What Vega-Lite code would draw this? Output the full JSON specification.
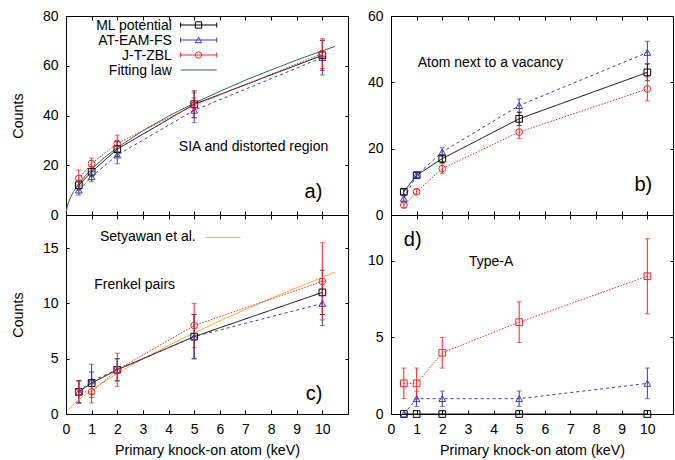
{
  "$schema": "https://vega.github.io/schema/vega-lite/v6.json",
  "padding": {"left": 10, "top": 8, "right": 0, "bottom": 0},
  "background": "white",
  "config": {
    "font": "Liberation Sans",
    "view": {"stroke": "black", "strokeWidth": 1},
    "axis": {"domain": false, "grid": false, "ticks": true, "tickColor": "black", "tickWidth": 1, "labelFont": "Liberation Sans", "labelFontSize": 14, "labelColor": "black", "labelFlush": false, "labelOverlap": false, "titleFont": "Liberation Sans", "titleFontSize": 14.3, "titleFontWeight": "normal", "titleColor": "black"},
    "axisX": {"tickSize": -4, "labelPadding": 12, "titlePadding": 7},
    "axisY": {"tickSize": -3, "labelPadding": 11, "titlePadding": 17},
    "text": {"font": "Liberation Sans", "color": "black"}
  },
  "columns": 2,
  "spacing": {"row": 0, "column": 43},
  "bounds": "flush",
  "resolve": {
    "scale": {"color": "independent", "shape": "independent", "strokeDash": "independent"},
    "legend": {"color": "independent", "shape": "independent", "strokeDash": "independent"}
  },
  "datasets": {
    "sia": [
      {"x": 0.5, "pot": "ML potential", "v": 12, "e": 2},
      {"x": 1, "pot": "ML potential", "v": 17.4, "e": 2},
      {"x": 2, "pot": "ML potential", "v": 26.5, "e": 3},
      {"x": 5, "pot": "ML potential", "v": 44.5, "e": 5.4},
      {"x": 10, "pot": "ML potential", "v": 64.2, "e": 6},
      {"x": 0.5, "pot": "AT-EAM-FS", "v": 10, "e": 2},
      {"x": 1, "pot": "AT-EAM-FS", "v": 15.4, "e": 2},
      {"x": 2, "pot": "AT-EAM-FS", "v": 24.1, "e": 3.5},
      {"x": 5, "pot": "AT-EAM-FS", "v": 42.1, "e": 5},
      {"x": 10, "pot": "AT-EAM-FS", "v": 63.3, "e": 7},
      {"x": 0.5, "pot": "J-T-ZBL", "v": 14.7, "e": 3.4},
      {"x": 1, "pot": "J-T-ZBL", "v": 20.7, "e": 2.2},
      {"x": 2, "pot": "J-T-ZBL", "v": 28.8, "e": 3.3},
      {"x": 5, "pot": "J-T-ZBL", "v": 44.1, "e": 5},
      {"x": 10, "pot": "J-T-ZBL", "v": 64.9, "e": 6}
    ],
    "vac": [
      {"x": 0.5, "pot": "ML potential", "v": 7, "e": 0.8},
      {"x": 1, "pot": "ML potential", "v": 12, "e": 0.8},
      {"x": 2, "pot": "ML potential", "v": 17, "e": 1.2},
      {"x": 5, "pot": "ML potential", "v": 29, "e": 2},
      {"x": 10, "pot": "ML potential", "v": 43, "e": 2.5},
      {"x": 0.5, "pot": "AT-EAM-FS", "v": 5, "e": 0.8},
      {"x": 1, "pot": "AT-EAM-FS", "v": 12, "e": 0.8},
      {"x": 2, "pot": "AT-EAM-FS", "v": 19, "e": 1.3},
      {"x": 5, "pot": "AT-EAM-FS", "v": 33, "e": 2},
      {"x": 10, "pot": "AT-EAM-FS", "v": 49, "e": 3.4},
      {"x": 0.5, "pot": "J-T-ZBL", "v": 3, "e": 0.8},
      {"x": 1, "pot": "J-T-ZBL", "v": 7, "e": 0.8},
      {"x": 2, "pot": "J-T-ZBL", "v": 14, "e": 1.5},
      {"x": 5, "pot": "J-T-ZBL", "v": 25, "e": 2},
      {"x": 10, "pot": "J-T-ZBL", "v": 38, "e": 3.6}
    ],
    "fp": [
      {"x": 0.5, "pot": "ML potential", "v": 2, "e": 1},
      {"x": 1, "pot": "ML potential", "v": 2.8, "e": 1},
      {"x": 2, "pot": "ML potential", "v": 4, "e": 1},
      {"x": 5, "pot": "ML potential", "v": 7, "e": 2},
      {"x": 10, "pot": "ML potential", "v": 11, "e": 2},
      {"x": 0.5, "pot": "AT-EAM-FS", "v": 2, "e": 1},
      {"x": 1, "pot": "AT-EAM-FS", "v": 3, "e": 1.5},
      {"x": 2, "pot": "AT-EAM-FS", "v": 4, "e": 1},
      {"x": 5, "pot": "AT-EAM-FS", "v": 7, "e": 2},
      {"x": 10, "pot": "AT-EAM-FS", "v": 10, "e": 2},
      {"x": 0.5, "pot": "J-T-ZBL", "v": 2, "e": 1},
      {"x": 1, "pot": "J-T-ZBL", "v": 2, "e": 1},
      {"x": 2, "pot": "J-T-ZBL", "v": 4, "e": 1.5},
      {"x": 5, "pot": "J-T-ZBL", "v": 8, "e": 2},
      {"x": 10, "pot": "J-T-ZBL", "v": 12, "e": 3.5}
    ],
    "typeA": [
      {"x": 0.5, "pot": "ML potential", "v": 0, "e": 0},
      {"x": 1, "pot": "ML potential", "v": 0, "e": 0},
      {"x": 2, "pot": "ML potential", "v": 0, "e": 0},
      {"x": 5, "pot": "ML potential", "v": 0, "e": 0},
      {"x": 10, "pot": "ML potential", "v": 0, "e": 0},
      {"x": 0.5, "pot": "AT-EAM-FS", "v": 0, "e": 0},
      {"x": 1, "pot": "AT-EAM-FS", "v": 1, "e": 0.5},
      {"x": 2, "pot": "AT-EAM-FS", "v": 1, "e": 0.5},
      {"x": 5, "pot": "AT-EAM-FS", "v": 1, "e": 0.5},
      {"x": 10, "pot": "AT-EAM-FS", "v": 2, "e": 1},
      {"x": 0.5, "pot": "J-T-ZBL", "v": 2, "e": 1},
      {"x": 1, "pot": "J-T-ZBL", "v": 2, "e": 1},
      {"x": 2, "pot": "J-T-ZBL", "v": 4, "e": 1},
      {"x": 5, "pot": "J-T-ZBL", "v": 6, "e": 1.33},
      {"x": 10, "pot": "J-T-ZBL", "v": 9, "e": 2.45}
    ],
    "fitlaw": [
      {"x": 0.01, "y": 1.45, "pot": "Fitting law"},
      {"x": 0.05, "y": 3.53, "pot": "Fitting law"},
      {"x": 0.1, "y": 5.17, "pot": "Fitting law"},
      {"x": 0.2, "y": 7.59, "pot": "Fitting law"},
      {"x": 0.3, "y": 9.49, "pot": "Fitting law"},
      {"x": 0.5, "y": 12.6, "pot": "Fitting law"},
      {"x": 0.75, "y": 15.75, "pot": "Fitting law"},
      {"x": 1, "y": 18.47, "pot": "Fitting law"},
      {"x": 1.5, "y": 23.1, "pot": "Fitting law"},
      {"x": 2, "y": 27.1, "pot": "Fitting law"},
      {"x": 3, "y": 33.9, "pot": "Fitting law"},
      {"x": 4, "y": 39.75, "pot": "Fitting law"},
      {"x": 5, "y": 44.98, "pot": "Fitting law"},
      {"x": 6, "y": 49.7, "pot": "Fitting law"},
      {"x": 7, "y": 54.2, "pot": "Fitting law"},
      {"x": 8, "y": 58.3, "pot": "Fitting law"},
      {"x": 9, "y": 62.3, "pot": "Fitting law"},
      {"x": 10, "y": 66.0, "pot": "Fitting law"},
      {"x": 10.5, "y": 67.8, "pot": "Fitting law"}
    ],
    "setyawan": [
      {"x": 0.1, "y": 0.38, "pot": "Setyawan et al."},
      {"x": 0.25, "y": 0.77, "pot": "Setyawan et al."},
      {"x": 0.5, "y": 1.29, "pot": "Setyawan et al."},
      {"x": 1, "y": 2.18, "pot": "Setyawan et al."},
      {"x": 2, "y": 3.68, "pot": "Setyawan et al."},
      {"x": 3, "y": 4.99, "pot": "Setyawan et al."},
      {"x": 4, "y": 6.2, "pot": "Setyawan et al."},
      {"x": 5, "y": 7.33, "pot": "Setyawan et al."},
      {"x": 6, "y": 8.42, "pot": "Setyawan et al."},
      {"x": 7, "y": 9.45, "pot": "Setyawan et al."},
      {"x": 8, "y": 10.46, "pot": "Setyawan et al."},
      {"x": 9, "y": 11.43, "pot": "Setyawan et al."},
      {"x": 10, "y": 12.36, "pot": "Setyawan et al."},
      {"x": 10.5, "y": 12.84, "pot": "Setyawan et al."}
    ]
  },
  "concat": [
    {
      "width": 282, "height": 199,
      "resolve": {"axis": {"x": "independent", "y": "independent"}},
      "layer": [
        {
          "data": {"name": "sia"},
          "transform": [{"filter": "datum.e > 0"}],
          "mark": {"type": "errorbar", "ticks": {"size": 5}, "thickness": 1},
          "encoding": {
            "x": {"field": "x", "type": "quantitative", "scale": {"domain": [0, 10.5]}, "axis": null},
            "y": {"field": "v", "type": "quantitative", "scale": {"domain": [0, 80]}, "axis": null},
            "yError": {"field": "e"},
            "color": {"field": "pot", "type": "nominal", "scale": {"domain": ["ML potential", "AT-EAM-FS", "J-T-ZBL", "Fitting law"], "range": ["#000000", "#3c3cae", "#f02828", "#2e6a52"]}, "legend": null}
          }
        },
        {
          "data": {"name": "fitlaw"},
          "mark": {"type": "line", "strokeWidth": 1},
          "encoding": {
            "x": {"field": "x", "type": "quantitative", "scale": {"domain": [0, 10.5]}, "axis": null},
            "y": {"field": "y", "type": "quantitative", "scale": {"domain": [0, 80]}, "axis": null},
            "color": {"field": "pot", "type": "nominal", "legend": null}
          }
        },
        {
          "data": {"name": "sia"},
          "mark": {"type": "line", "strokeWidth": 1},
          "encoding": {
            "x": {"field": "x", "type": "quantitative", "scale": {"domain": [0, 10.5]}, "axis": {"orient": "bottom", "labels": false, "title": null, "values": [0, 1, 2, 3, 4, 5, 6, 7, 8, 9, 10]}},
            "y": {"field": "v", "type": "quantitative", "scale": {"domain": [0, 80]}, "axis": {"orient": "left", "title": "Counts", "values": [0, 20, 40, 60, 80]}},
            "color": {"field": "pot", "type": "nominal", "legend": null},
            "strokeDash": {"field": "pot", "type": "nominal", "scale": {"domain": ["ML potential", "AT-EAM-FS", "J-T-ZBL"], "range": [[1, 0], [3, 3], [1.5, 1.5]]}, "legend": null}
          }
        },
        {
          "data": {"name": "sia"},
          "mark": {"type": "point", "filled": false, "size": 45, "opacity": 1, "strokeWidth": 1},
          "encoding": {
            "x": {"field": "x", "type": "quantitative", "scale": {"domain": [0, 10.5]}, "axis": {"orient": "top", "labels": false, "title": null, "values": [0, 1, 2, 3, 4, 5, 6, 7, 8, 9, 10]}},
            "y": {"field": "v", "type": "quantitative", "scale": {"domain": [0, 80]}, "axis": {"orient": "right", "labels": false, "title": null, "values": [0, 20, 40, 60, 80]}},
            "shape": {"field": "pot", "type": "nominal", "scale": {"domain": ["ML potential", "AT-EAM-FS", "J-T-ZBL", "Fitting law"], "range": ["square", "triangle-up", "circle", "stroke"]}, "legend": null},
            "color": {"field": "pot", "type": "nominal", "legend": null}
          }
        },
        {
          "data": {"values": [{}]},
          "mark": {"type": "text", "align": "right", "baseline": "alphabetic", "fontSize": 14, "lineHeight": 15},
          "encoding": {
            "x": {"datum": 4.13, "type": "quantitative", "axis": null},
            "y": {"datum": 74.4, "type": "quantitative", "axis": null},
            "text": {"value": ["ML potential", "AT-EAM-FS", "J-T-ZBL", "Fitting law"]}
          }
        },
        {
          "data": {"values": [{}]},
          "mark": {"type": "rule", "strokeWidth": 1, "color": "#000000"},
          "encoding": {"x": {"datum": 4.47, "type": "quantitative", "axis": null}, "x2": {"datum": 5.88}, "y": {"datum": 76.38, "type": "quantitative", "axis": null}}
        },
        {
          "data": {"values": [{}]},
          "mark": {"type": "rule", "strokeWidth": 1, "color": "#3c3cae"},
          "encoding": {"x": {"datum": 4.47, "type": "quantitative", "axis": null}, "x2": {"datum": 5.88}, "y": {"datum": 70.35, "type": "quantitative", "axis": null}}
        },
        {
          "data": {"values": [{}]},
          "mark": {"type": "rule", "strokeWidth": 1, "color": "#f02828"},
          "encoding": {"x": {"datum": 4.47, "type": "quantitative", "axis": null}, "x2": {"datum": 5.88}, "y": {"datum": 64.32, "type": "quantitative", "axis": null}}
        },
        {
          "data": {"values": [{}]},
          "mark": {"type": "rule", "strokeWidth": 1, "color": "#2e6a52"},
          "encoding": {"x": {"datum": 4.47, "type": "quantitative", "axis": null}, "x2": {"datum": 5.88}, "y": {"datum": 58.29, "type": "quantitative", "axis": null}}
        },
        {
          "data": {"values": [{}]},
          "mark": {"type": "tick", "orient": "vertical", "size": 5, "thickness": 1, "opacity": 1, "color": "#000000"},
          "encoding": {"x": {"datum": 4.47, "type": "quantitative", "axis": null}, "y": {"datum": 76.38, "type": "quantitative", "axis": null}}
        },
        {
          "data": {"values": [{}]},
          "mark": {"type": "tick", "orient": "vertical", "size": 5, "thickness": 1, "opacity": 1, "color": "#000000"},
          "encoding": {"x": {"datum": 5.88, "type": "quantitative", "axis": null}, "y": {"datum": 76.38, "type": "quantitative", "axis": null}}
        },
        {
          "data": {"values": [{}]},
          "mark": {"type": "tick", "orient": "vertical", "size": 5, "thickness": 1, "opacity": 1, "color": "#3c3cae"},
          "encoding": {"x": {"datum": 4.47, "type": "quantitative", "axis": null}, "y": {"datum": 70.35, "type": "quantitative", "axis": null}}
        },
        {
          "data": {"values": [{}]},
          "mark": {"type": "tick", "orient": "vertical", "size": 5, "thickness": 1, "opacity": 1, "color": "#3c3cae"},
          "encoding": {"x": {"datum": 5.88, "type": "quantitative", "axis": null}, "y": {"datum": 70.35, "type": "quantitative", "axis": null}}
        },
        {
          "data": {"values": [{}]},
          "mark": {"type": "tick", "orient": "vertical", "size": 5, "thickness": 1, "opacity": 1, "color": "#f02828"},
          "encoding": {"x": {"datum": 4.47, "type": "quantitative", "axis": null}, "y": {"datum": 64.32, "type": "quantitative", "axis": null}}
        },
        {
          "data": {"values": [{}]},
          "mark": {"type": "tick", "orient": "vertical", "size": 5, "thickness": 1, "opacity": 1, "color": "#f02828"},
          "encoding": {"x": {"datum": 5.88, "type": "quantitative", "axis": null}, "y": {"datum": 64.32, "type": "quantitative", "axis": null}}
        },
        {
          "data": {"values": [{}]},
          "mark": {"type": "point", "shape": "square", "filled": false, "size": 40, "opacity": 1, "strokeWidth": 1, "color": "#000000"},
          "encoding": {"x": {"datum": 5.17, "type": "quantitative", "axis": null}, "y": {"datum": 76.38, "type": "quantitative", "axis": null}}
        },
        {
          "data": {"values": [{}]},
          "mark": {"type": "point", "shape": "triangle-up", "filled": false, "size": 40, "opacity": 1, "strokeWidth": 1, "color": "#3c3cae"},
          "encoding": {"x": {"datum": 5.17, "type": "quantitative", "axis": null}, "y": {"datum": 70.35, "type": "quantitative", "axis": null}}
        },
        {
          "data": {"values": [{}]},
          "mark": {"type": "point", "shape": "circle", "filled": false, "size": 40, "opacity": 1, "strokeWidth": 1, "color": "#f02828"},
          "encoding": {"x": {"datum": 5.17, "type": "quantitative", "axis": null}, "y": {"datum": 64.32, "type": "quantitative", "axis": null}}
        },
        {
          "data": {"values": [{}]},
          "mark": {"type": "text", "align": "left", "baseline": "middle", "fontSize": 14},
          "encoding": {
            "x": {"datum": 4.4, "type": "quantitative", "axis": null},
            "y": {"datum": 27.3, "type": "quantitative", "axis": null},
            "text": {"value": "SIA and distorted region"}
          }
        },
        {
          "data": {"values": [{}]},
          "mark": {"type": "text", "align": "right", "baseline": "middle", "fontSize": 20},
          "encoding": {
            "x": {"datum": 10.0, "type": "quantitative", "axis": null},
            "y": {"datum": 9.4, "type": "quantitative", "axis": null},
            "text": {"value": "a)"}
          }
        }
      ]
    },
    {
      "width": 282, "height": 199,
      "resolve": {"axis": {"x": "independent", "y": "independent"}},
      "layer": [
        {
          "data": {"name": "vac"},
          "transform": [{"filter": "datum.e > 0"}],
          "mark": {"type": "errorbar", "ticks": {"size": 5}, "thickness": 1},
          "encoding": {
            "x": {"field": "x", "type": "quantitative", "scale": {"domain": [0, 10.5]}, "axis": null},
            "y": {"field": "v", "type": "quantitative", "scale": {"domain": [0, 60]}, "axis": null},
            "yError": {"field": "e"},
            "color": {"field": "pot", "type": "nominal", "scale": {"domain": ["ML potential", "AT-EAM-FS", "J-T-ZBL"], "range": ["#000000", "#3c3cae", "#f02828"]}, "legend": null}
          }
        },
        {
          "data": {"name": "vac"},
          "mark": {"type": "line", "strokeWidth": 1},
          "encoding": {
            "x": {"field": "x", "type": "quantitative", "scale": {"domain": [0, 10.5]}, "axis": {"orient": "bottom", "labels": false, "title": null, "values": [0, 1, 2, 3, 4, 5, 6, 7, 8, 9, 10]}},
            "y": {"field": "v", "type": "quantitative", "scale": {"domain": [0, 60]}, "axis": {"orient": "left", "title": null, "values": [0, 20, 40, 60]}},
            "color": {"field": "pot", "type": "nominal", "legend": null},
            "strokeDash": {"field": "pot", "type": "nominal", "scale": {"domain": ["ML potential", "AT-EAM-FS", "J-T-ZBL"], "range": [[1, 0], [3, 3], [1.5, 1.5]]}, "legend": null}
          }
        },
        {
          "data": {"name": "vac"},
          "mark": {"type": "point", "filled": false, "size": 45, "opacity": 1, "strokeWidth": 1},
          "encoding": {
            "x": {"field": "x", "type": "quantitative", "scale": {"domain": [0, 10.5]}, "axis": {"orient": "top", "labels": false, "title": null, "values": [0, 1, 2, 3, 4, 5, 6, 7, 8, 9, 10]}},
            "y": {"field": "v", "type": "quantitative", "scale": {"domain": [0, 60]}, "axis": {"orient": "right", "labels": false, "title": null, "values": [0, 20, 40, 60]}},
            "shape": {"field": "pot", "type": "nominal", "scale": {"domain": ["ML potential", "AT-EAM-FS", "J-T-ZBL"], "range": ["square", "triangle-up", "circle"]}, "legend": null},
            "color": {"field": "pot", "type": "nominal", "legend": null}
          }
        },
        {
          "data": {"values": [{}]},
          "mark": {"type": "text", "align": "left", "baseline": "middle", "fontSize": 14},
          "encoding": {
            "x": {"datum": 1.04, "type": "quantitative", "axis": null},
            "y": {"datum": 45.8, "type": "quantitative", "axis": null},
            "text": {"value": "Atom next to a vacancy"}
          }
        },
        {
          "data": {"values": [{}]},
          "mark": {"type": "text", "align": "right", "baseline": "middle", "fontSize": 20},
          "encoding": {
            "x": {"datum": 10.19, "type": "quantitative", "axis": null},
            "y": {"datum": 9.0, "type": "quantitative", "axis": null},
            "text": {"value": "b)"}
          }
        }
      ]
    },
    {
      "width": 282, "height": 199,
      "resolve": {"axis": {"x": "independent", "y": "independent"}},
      "layer": [
        {
          "data": {"name": "fp"},
          "transform": [{"filter": "datum.e > 0"}],
          "mark": {"type": "errorbar", "ticks": {"size": 5}, "thickness": 1},
          "encoding": {
            "x": {"field": "x", "type": "quantitative", "scale": {"domain": [0, 10.5]}, "axis": null},
            "y": {"field": "v", "type": "quantitative", "scale": {"domain": [0, 17]}, "axis": null},
            "yError": {"field": "e"},
            "color": {"field": "pot", "type": "nominal", "scale": {"domain": ["ML potential", "AT-EAM-FS", "J-T-ZBL", "Setyawan et al."], "range": ["#000000", "#3c3cae", "#f02828", "#f7b13a"]}, "legend": null}
          }
        },
        {
          "data": {"name": "setyawan"},
          "mark": {"type": "line", "strokeWidth": 1},
          "encoding": {
            "x": {"field": "x", "type": "quantitative", "scale": {"domain": [0, 10.5]}, "axis": null},
            "y": {"field": "y", "type": "quantitative", "scale": {"domain": [0, 17]}, "axis": null},
            "color": {"field": "pot", "type": "nominal", "legend": null}
          }
        },
        {
          "data": {"name": "fp"},
          "mark": {"type": "line", "strokeWidth": 1},
          "encoding": {
            "x": {"field": "x", "type": "quantitative", "scale": {"domain": [0, 10.5]}, "axis": {"orient": "bottom", "title": "Primary knock-on atom (keV)", "values": [0, 1, 2, 3, 4, 5, 6, 7, 8, 9, 10]}},
            "y": {"field": "v", "type": "quantitative", "scale": {"domain": [0, 17]}, "axis": {"orient": "left", "title": "Counts", "values": [0, 5, 10, 15]}},
            "color": {"field": "pot", "type": "nominal", "legend": null},
            "strokeDash": {"field": "pot", "type": "nominal", "scale": {"domain": ["ML potential", "AT-EAM-FS", "J-T-ZBL"], "range": [[1, 0], [3, 3], [1.5, 1.5]]}, "legend": null}
          }
        },
        {
          "data": {"name": "fp"},
          "mark": {"type": "point", "filled": false, "size": 45, "opacity": 1, "strokeWidth": 1},
          "encoding": {
            "x": {"field": "x", "type": "quantitative", "scale": {"domain": [0, 10.5]}, "axis": {"orient": "top", "labels": false, "title": null, "values": [0, 1, 2, 3, 4, 5, 6, 7, 8, 9, 10]}},
            "y": {"field": "v", "type": "quantitative", "scale": {"domain": [0, 17]}, "axis": {"orient": "right", "labels": false, "title": null, "values": [0, 5, 10, 15]}},
            "shape": {"field": "pot", "type": "nominal", "scale": {"domain": ["ML potential", "AT-EAM-FS", "J-T-ZBL"], "range": ["square", "triangle-up", "circle"]}, "legend": null},
            "color": {"field": "pot", "type": "nominal", "legend": null}
          }
        },
        {
          "data": {"values": [{}]},
          "mark": {"type": "text", "align": "right", "baseline": "middle", "fontSize": 14},
          "encoding": {
            "x": {"datum": 5.06, "type": "quantitative", "axis": null},
            "y": {"datum": 15.97, "type": "quantitative", "axis": null},
            "text": {"value": "Setyawan et al."}
          }
        },
        {
          "data": {"values": [{}]},
          "mark": {"type": "rule", "strokeWidth": 1, "color": "#f7b13a"},
          "encoding": {
            "x": {"datum": 5.44, "type": "quantitative", "axis": null},
            "x2": {"datum": 6.81},
            "y": {"datum": 15.97, "type": "quantitative", "axis": null}
          }
        },
        {
          "data": {"values": [{}]},
          "mark": {"type": "text", "align": "left", "baseline": "middle", "fontSize": 14},
          "encoding": {
            "x": {"datum": 1.1, "type": "quantitative", "axis": null},
            "y": {"datum": 11.7, "type": "quantitative", "axis": null},
            "text": {"value": "Frenkel pairs"}
          }
        },
        {
          "data": {"values": [{}]},
          "mark": {"type": "text", "align": "right", "baseline": "middle", "fontSize": 20},
          "encoding": {
            "x": {"datum": 10.0, "type": "quantitative", "axis": null},
            "y": {"datum": 1.84, "type": "quantitative", "axis": null},
            "text": {"value": "c)"}
          }
        }
      ]
    },
    {
      "width": 282, "height": 199,
      "resolve": {"axis": {"x": "independent", "y": "independent"}},
      "layer": [
        {
          "data": {"name": "typeA"},
          "transform": [{"filter": "datum.e > 0"}],
          "mark": {"type": "errorbar", "ticks": {"size": 5}, "thickness": 1},
          "encoding": {
            "x": {"field": "x", "type": "quantitative", "scale": {"domain": [0, 10.5]}, "axis": null},
            "y": {"field": "v", "type": "quantitative", "scale": {"domain": [0, 13]}, "axis": null},
            "yError": {"field": "e"},
            "color": {"field": "pot", "type": "nominal", "scale": {"domain": ["ML potential", "AT-EAM-FS", "J-T-ZBL"], "range": ["#000000", "#3c3cae", "#f02828"]}, "legend": null}
          }
        },
        {
          "data": {"name": "typeA"},
          "mark": {"type": "line", "strokeWidth": 1},
          "encoding": {
            "x": {"field": "x", "type": "quantitative", "scale": {"domain": [0, 10.5]}, "axis": {"orient": "bottom", "title": "Primary knock-on atom (keV)", "values": [0, 1, 2, 3, 4, 5, 6, 7, 8, 9, 10]}},
            "y": {"field": "v", "type": "quantitative", "scale": {"domain": [0, 13]}, "axis": {"orient": "left", "title": null, "values": [0, 5, 10]}},
            "color": {"field": "pot", "type": "nominal", "legend": null},
            "strokeDash": {"field": "pot", "type": "nominal", "scale": {"domain": ["ML potential", "AT-EAM-FS", "J-T-ZBL"], "range": [[1, 0], [3, 3], [1.5, 1.5]]}, "legend": null}
          }
        },
        {
          "data": {"name": "typeA"},
          "mark": {"type": "point", "filled": false, "size": 45, "opacity": 1, "strokeWidth": 1},
          "encoding": {
            "x": {"field": "x", "type": "quantitative", "scale": {"domain": [0, 10.5]}, "axis": {"orient": "top", "labels": false, "title": null, "values": [0, 1, 2, 3, 4, 5, 6, 7, 8, 9, 10]}},
            "y": {"field": "v", "type": "quantitative", "scale": {"domain": [0, 13]}, "axis": {"orient": "right", "labels": false, "title": null, "values": [0, 5, 10]}},
            "shape": {"field": "pot", "type": "nominal", "scale": {"domain": ["ML potential", "AT-EAM-FS", "J-T-ZBL"], "range": ["square", "triangle-up", "square"]}, "legend": null},
            "color": {"field": "pot", "type": "nominal", "legend": null}
          }
        },
        {
          "data": {"values": [{}]},
          "mark": {"type": "text", "align": "left", "baseline": "middle", "fontSize": 14},
          "encoding": {
            "x": {"datum": 3.04, "type": "quantitative", "axis": null},
            "y": {"datum": 9.95, "type": "quantitative", "axis": null},
            "text": {"value": "Type-A"}
          }
        },
        {
          "data": {"values": [{}]},
          "mark": {"type": "text", "align": "left", "baseline": "middle", "fontSize": 20},
          "encoding": {
            "x": {"datum": 0.5, "type": "quantitative", "axis": null},
            "y": {"datum": 11.37, "type": "quantitative", "axis": null},
            "text": {"value": "d)"}
          }
        }
      ]
    }
  ]
}
